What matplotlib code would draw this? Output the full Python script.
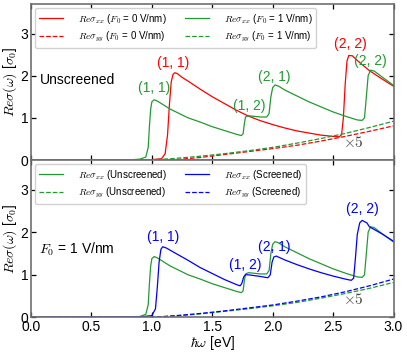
import numpy as np
import matplotlib
matplotlib.use('Agg')
import matplotlib.pyplot as plt

plt.rcParams['font.family'] = ['Liberation Sans', 'DejaVu Sans']
plt.rcParams['mathtext.fontset'] = 'cm'
plt.rcParams['font.size'] = 10

RED = 'red'
GREEN = '#229a32'
BLUE = 'blue'

# ---- top panel: unscreened, F0 = 0 and F0 = 1 V/nm ----
x_red_xx = [0.0, 0.9, 1.0, 1.08, 1.11, 1.13, 1.145, 1.16, 1.175, 1.19, 1.21, 1.25, 1.3, 1.4,
            1.5, 1.6, 1.7, 1.8, 1.9, 2.0, 2.1, 2.2, 2.3, 2.4, 2.5, 2.55, 2.57, 2.585, 2.6,
            2.615, 2.63, 2.66, 2.7, 2.8, 2.9, 3.0]
y_red_xx = [0.0, 0.0, 0.01, 0.03, 0.15, 0.6, 1.3, 1.85, 2.03, 2.07, 2.05, 1.96, 1.87, 1.68,
            1.5, 1.34, 1.18, 1.04, 0.93, 0.84, 0.76, 0.69, 0.64, 0.59, 0.56, 0.55, 0.6, 1.0, 1.8,
            2.35, 2.48, 2.47, 2.36, 2.12, 1.93, 1.75]

x_green_xx = [0.0, 0.8, 0.9, 0.95, 0.97, 0.98, 0.99, 1.0, 1.02, 1.05, 1.1, 1.15, 1.2, 1.3, 1.4,
              1.5, 1.6, 1.7, 1.74, 1.755, 1.765, 1.775, 1.8, 1.9, 1.95, 1.97, 1.985, 2.0, 2.02,
              2.05, 2.1, 2.2, 2.3, 2.4, 2.5, 2.6, 2.7, 2.74, 2.76, 2.775, 2.79, 2.81, 2.84,
              2.9, 3.0]
y_green_xx = [0.0, 0.0, 0.02, 0.07, 0.3, 0.8, 1.2, 1.38, 1.43, 1.39, 1.3, 1.21, 1.14, 1.0, 0.9,
              0.79, 0.7, 0.61, 0.58, 0.62, 0.85, 1.02, 1.05, 1.02, 1.02, 1.1, 1.5, 1.72, 1.78,
              1.75, 1.66, 1.52, 1.38, 1.26, 1.14, 1.04, 0.95, 0.94, 1.0, 1.5, 2.0, 2.13, 2.11,
              1.98, 1.77]

x_yy = [0.0, 0.95, 1.0, 1.1, 1.2, 1.4, 1.6, 1.8, 2.0, 2.2, 2.4, 2.6, 2.8, 3.0]
y_red_yy = [0.0, 0.0, 0.0, 0.0, 0.01, 0.06, 0.13, 0.2, 0.27, 0.35, 0.45, 0.56, 0.68, 0.81]
y_green_yy = [0.0, 0.0, 0.005, 0.02, 0.04, 0.09, 0.15, 0.22, 0.3, 0.4, 0.51, 0.63, 0.77, 0.92]

# ---- bottom panel: F0 = 1 V/nm, unscreened vs screened ----
x_blue_xx = [0.0, 0.9, 1.0, 1.03, 1.045, 1.06, 1.075, 1.09, 1.12, 1.2, 1.3, 1.4, 1.5, 1.6, 1.7,
             1.73, 1.745, 1.76, 1.775, 1.8, 1.9, 1.96, 1.98, 1.995, 2.01, 2.03, 2.1, 2.2, 2.3,
             2.4, 2.5, 2.6, 2.65, 2.67, 2.685, 2.7, 2.72, 2.74, 2.78, 2.8, 2.9, 3.0]
y_blue_xx = [0.0, 0.01, 0.04, 0.2, 0.7, 1.3, 1.6, 1.66, 1.63, 1.5, 1.34, 1.17, 1.03, 0.89, 0.77,
             0.74, 0.8, 0.95, 1.0, 1.0, 0.96, 0.93, 1.0, 1.3, 1.42, 1.44, 1.35, 1.24, 1.14,
             1.05, 0.97, 0.9, 0.87, 0.92, 1.4, 1.95, 2.22, 2.28, 2.22, 2.13, 1.97, 1.79]
y_green_yy_b = [0.0, 0.0, 0.005, 0.015, 0.03, 0.08, 0.14, 0.2, 0.27, 0.35, 0.45, 0.56, 0.68, 0.82]
y_blue_yy = [0.0, 0.0, 0.005, 0.02, 0.04, 0.09, 0.15, 0.22, 0.29, 0.38, 0.48, 0.6, 0.74, 0.9]

labels_top = [('(1, 1)', 1.18, 2.29, RED), ('(1, 1)', 1.02, 1.70, GREEN),
              ('(1, 2)', 1.81, 1.28, GREEN), ('(2, 1)', 2.01, 1.97, GREEN),
              ('(2, 2)', 2.64, 2.76, RED), ('(2, 2)', 2.81, 2.35, GREEN)]
labels_bot = [('(1, 1)', 1.09, 1.89, BLUE), ('(1, 2)', 1.77, 1.24, BLUE),
              ('(2, 1)', 2.01, 1.65, BLUE), ('(2, 2)', 2.74, 2.54, BLUE)]

fig = plt.figure(figsize=(4.07, 3.53), dpi=100)
ax1 = fig.add_axes([0.0762, 0.5467, 0.8907, 0.442])
ax2 = fig.add_axes([0.0762, 0.1011, 0.8907, 0.4456])

lw = 0.9
ax1.plot(x_red_xx, y_red_xx, color=RED, lw=lw, label=r'$Re\sigma_{xx}$ ($F_0$ = 0 V/nm)')
ax1.plot(x_yy, y_red_yy, color=RED, lw=lw, ls='--', label=r'$Re\sigma_{yy}$ ($F_0$ = 0 V/nm)')
ax1.plot(x_green_xx, y_green_xx, color=GREEN, lw=lw, label=r'$Re\sigma_{xx}$ ($F_0$ = 1 V/nm)')
ax1.plot(x_yy, y_green_yy, color=GREEN, lw=lw, ls='--', label=r'$Re\sigma_{yy}$ ($F_0$ = 1 V/nm)')

ax2.plot(x_green_xx, y_green_xx, color=GREEN, lw=lw, label=r'$Re\sigma_{xx}$ (Unscreened)')
ax2.plot(x_yy, y_green_yy_b, color=GREEN, lw=lw, ls='--', label=r'$Re\sigma_{yy}$ (Unscreened)')
ax2.plot(x_blue_xx, y_blue_xx, color=BLUE, lw=lw, label=r'$Re\sigma_{xx}$ (Screened)')
ax2.plot(x_yy, y_blue_yy, color=BLUE, lw=lw, ls='--', label=r'$Re\sigma_{yy}$ (Screened)')

for t, x, y, c in labels_top:
    ax1.text(x, y, t, color=c, ha='center', va='center', fontsize=10)
for t, x, y, c in labels_bot:
    ax2.text(x, y, t, color=c, ha='center', va='center', fontsize=10)

ax1.text(2.67, 0.41, r'$\times 5$', color='#444444', ha='center', va='center', fontsize=11)
ax2.text(2.67, 0.41, r'$\times 5$', color='#444444', ha='center', va='center', fontsize=11)
ax1.text(0.07, 1.89, 'Unscreened', ha='left', va='center', fontsize=10)
ax2.text(0.07, 1.60, r'$F_0$ = 1 V/nm', ha='left', va='center', fontsize=10)

for ax in (ax1, ax2):
    ax.set_xlim(0, 3.0)
    ax.set_ylim(0, 3.7)
    ax.set_xticks(np.arange(0, 3.01, 0.5))
    ax.set_yticks([0, 1, 2, 3])
    ax.tick_params(direction='in', top=True, right=True, length=3.5, width=0.9,
                   labelsize=10, pad=2)
    for s in ax.spines.values():
        s.set_color('#707070')
        s.set_linewidth(1.2)
    ax.set_ylabel(r'$Re\sigma(\omega)$ [$\sigma_0$]', fontsize=10, labelpad=1)
    ax.legend(loc='upper left', ncol=2, fontsize=7, handlelength=2.5, handletextpad=1.5,
              columnspacing=1.9, labelspacing=0.45, borderaxespad=0.4, framealpha=0.9,
              edgecolor='#cccccc')

ax1.tick_params(labelbottom=False)
ax2.set_xticklabels(['0.0', '0.5', '1.0', '1.5', '2.0', '2.5', '3.0'])
ax2.set_xlabel(r'$\hbar\omega$ [eV]', fontsize=10, labelpad=0)

fig.savefig('out.png', dpi=100)
